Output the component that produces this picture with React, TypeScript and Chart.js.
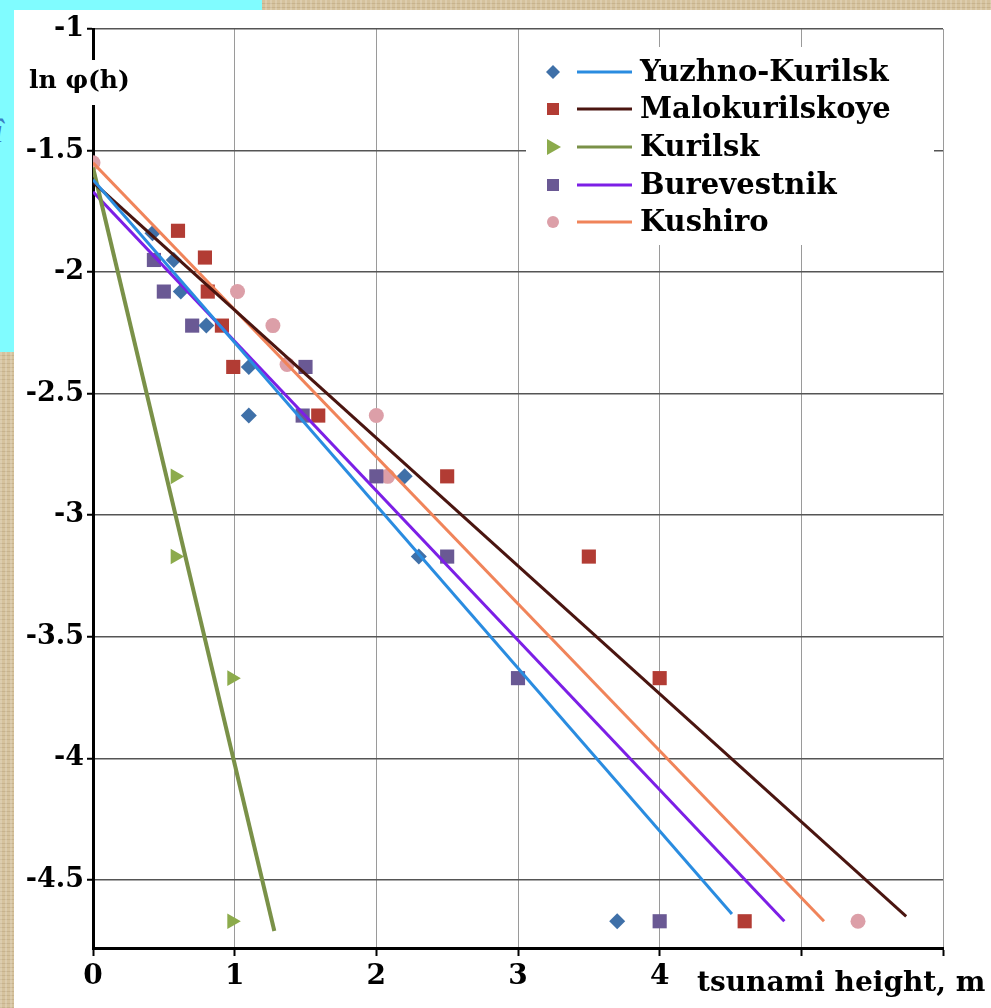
import React, { useEffect, useRef } from "react";
import { Chart, registerables } from "chart.js";

Chart.register(...registerables);

// ---------- DATA ----------
const seriesNames = ["Yuzhno-Kurilsk", "Malokurilskoye", "Kurilsk", "Burevestnik", "Kushiro"];

const yuzhnoX = [0.42, 0.57, 0.62, 0.8, 1.1, 1.1, 2.2, 2.3, 3.7];
const yuzhnoY = [-1.84, -1.95, -2.08, -2.22, -2.39, -2.59, -2.84, -3.17, -4.67];

const malokX = [0.6, 0.79, 0.81, 0.91, 0.99, 1.59, 2.5, 3.5, 4.0, 4.6];
const malokY = [-1.83, -1.94, -2.08, -2.22, -2.39, -2.59, -2.84, -3.17, -3.67, -4.67];

const kurilskX = [0.58, 0.58, 0.98, 0.98];
const kurilskY = [-2.84, -3.17, -3.67, -4.67];

const burevX = [0.43, 0.5, 0.7, 1.5, 1.48, 2.0, 2.5, 3.0, 4.0];
const burevY = [-1.95, -2.08, -2.22, -2.39, -2.59, -2.84, -3.17, -3.67, -4.67];

const kushiroX = [0.0, 1.02, 1.27, 1.37, 2.0, 2.08, 5.4];
const kushiroY = [-1.55, -2.08, -2.22, -2.38, -2.59, -2.84, -4.67];

// trend lines: [x0, x1], [y0, y1]
const yuzhnoTrendX = [0, 4.51];
const yuzhnoTrendY = [-1.62, -4.64];
const malokTrendX = [0, 5.74];
const malokTrendY = [-1.63, -4.65];
const kurilskTrendX = [0, 1.28];
const kurilskTrendY = [-1.57, -4.71];
const burevTrendX = [0, 4.88];
const burevTrendY = [-1.67, -4.67];
const kushiroTrendX = [0, 5.16];
const kushiroTrendY = [-1.55, -4.67];

const xTickLabels = ["0", "1", "2", "3", "4"];
const yAxisTitle = "ln φ(h)";
const xAxisTitle = "tsunami height, m";

// ---------- STYLE ----------
const markerColors = ["#3f70a8", "#b23c34", "#8cab4c", "#6a5994", "#dc9fa8"];
const lineColors = ["#2a8ce0", "#4a1510", "#7a9148", "#7c1fe6", "#f0845a"];
const markerStyles = ["rectRot", "rect", "triangle", "rect", "circle"];
const markerRadius = [8, 10, 9, 10, 7.5];
const markerRotation = [0, 0, 90, 0, 0];
const lineWidths = [3, 3, 4, 3, 3];

const FONT = "'DejaVu Serif', 'Liberation Serif', serif";

const pts = (xs: number[], ys: number[]) => xs.map((x, i) => ({ x, y: ys[i] }));

const overlayPlugin = {
  id: "overlay",
  afterDraw(chart: any) {
    const ctx = chart.ctx as CanvasRenderingContext2D;
    ctx.save();
    // y-axis title with white background
    ctx.fillStyle = "#ffffff";
    ctx.fillRect(26, 60, 118, 45);
    ctx.fillStyle = "#000";
    ctx.font = `bold 25px ${FONT}`;
    ctx.textBaseline = "middle";
    ctx.textAlign = "left";
    ctx.fillText(yAxisTitle, 29, 81);

    // x-axis title
    ctx.font = `bold 28px ${FONT}`;
    ctx.textBaseline = "alphabetic";
    ctx.fillText(xAxisTitle, 697, 991);

    // legend
    ctx.fillStyle = "#ffffff";
    ctx.fillRect(526, 47, 408, 198);
    const rows = [72, 109, 147, 185, 222];
    for (let i = 0; i < 5; i++) {
      const y = rows[i];
      const mx = 553;
      ctx.fillStyle = markerColors[i];
      ctx.beginPath();
      const st = markerStyles[i];
      if (st === "rectRot") {
        ctx.moveTo(mx - 7, y);
        ctx.lineTo(mx, y - 7);
        ctx.lineTo(mx + 7, y);
        ctx.lineTo(mx, y + 7);
        ctx.closePath();
      } else if (st === "rect") {
        ctx.rect(mx - 6, y - 6, 12, 12);
      } else if (st === "triangle") {
        ctx.moveTo(mx + 8, y);
        ctx.lineTo(mx - 6, y - 8);
        ctx.lineTo(mx - 6, y + 8);
        ctx.closePath();
      } else {
        ctx.arc(mx, y, 6, 0, Math.PI * 2);
      }
      ctx.fill();
      ctx.strokeStyle = lineColors[i];
      ctx.lineWidth = 3;
      ctx.beginPath();
      ctx.moveTo(577, y);
      ctx.lineTo(632, y);
      ctx.stroke();
      ctx.fillStyle = "#000";
      ctx.font = `bold 29px ${FONT}`;
      ctx.textBaseline = "middle";
      ctx.fillText(seriesNames[i], 640, y + 1);
    }
    ctx.restore();
  },
};

export default function App() {
  const canvasRef = useRef<HTMLCanvasElement | null>(null);

  useEffect(() => {
    if (!canvasRef.current) return;
    const scatterX = [yuzhnoX, malokX, kurilskX, burevX, kushiroX];
    const scatterY = [yuzhnoY, malokY, kurilskY, burevY, kushiroY];
    const trendX = [yuzhnoTrendX, malokTrendX, kurilskTrendX, burevTrendX, kushiroTrendX];
    const trendY = [yuzhnoTrendY, malokTrendY, kurilskTrendY, burevTrendY, kushiroTrendY];

    const datasets: any[] = [];
    for (let i = 0; i < 5; i++) {
      datasets.push({
        label: seriesNames[i] + " trend",
        data: pts(trendX[i], trendY[i]),
        showLine: true,
        borderColor: lineColors[i],
        borderWidth: lineWidths[i],
        pointRadius: 0,
        order: 0,
      });
    }
    for (let i = 0; i < 5; i++) {
      datasets.push({
        label: seriesNames[i],
        data: pts(scatterX[i], scatterY[i]),
        showLine: false,
        pointStyle: markerStyles[i],
        pointRadius: markerRadius[i],
        pointRotation: markerRotation[i],
        backgroundColor: markerColors[i],
        borderColor: markerColors[i],
        borderWidth: 0,
        order: 1,
      });
    }

    const tickFontY = { family: FONT, weight: "bold" as const, size: 27 };
    const tickFontX = { family: FONT, weight: "bold" as const, size: 28 };

    const chart = new Chart(canvasRef.current, {
      type: "scatter",
      data: { datasets },
      options: {
        animation: false,
        responsive: false,
        devicePixelRatio: 1,
        layout: { padding: { left: 0, top: 29, right: 48, bottom: 0 } },
        plugins: { legend: { display: false }, tooltip: { enabled: false } },
        scales: {
          x: {
            type: "linear",
            min: 0,
            max: 6,
            ticks: {
              stepSize: 1,
              autoSkip: false,
              maxRotation: 0,
              padding: 4,
              color: "#000",
              font: tickFontX,
              callback: (v: any) => {
                const idx = Math.round(Number(v));
                return idx < xTickLabels.length ? xTickLabels[idx] : "";
              },
            },
            grid: { color: "#9a9a9a", lineWidth: 1, tickLength: 8, tickColor: "#000", tickWidth: 2 },
            border: { color: "#000", width: 3 },
            afterFit: (s: any) => {
              s.height = 60;
            },
          } as any,
          y: {
            type: "linear",
            min: -4.78,
            max: -1,
            ticks: {
              stepSize: 0.5,
              padding: 3,
              color: "#000",
              font: tickFontY,
              callback: (v: any) => String(v),
            },
            grid: { color: "#555555", lineWidth: 1.5, tickLength: 6, tickColor: "#000", tickWidth: 2 },
            border: { color: "#000", width: 3 },
            afterBuildTicks: (s: any) => {
              s.ticks = s.ticks.filter((t: any) => Math.abs(t.value * 2 - Math.round(t.value * 2)) < 1e-6);
            },
            afterFit: (s: any) => {
              s.width = 93;
            },
          } as any,
        },
      },
      plugins: [overlayPlugin],
    });
    return () => chart.destroy();
  }, []);

  return (
    <div
      style={{
        position: "fixed",
        left: 0,
        top: 0,
        width: 991,
        height: 1008,
        overflow: "hidden",
        backgroundColor: "#d5c29d",
        backgroundImage:
          "repeating-linear-gradient(90deg, rgba(255,255,255,0.18) 0px, rgba(255,255,255,0.18) 2px, transparent 2px, transparent 5px), repeating-linear-gradient(0deg, rgba(120,90,50,0.15) 0px, rgba(120,90,50,0.15) 1px, transparent 1px, transparent 4px)",
      }}
    >
      <div style={{ position: "absolute", left: 0, top: 0, width: 262, height: 352, background: "#80fcff" }} />
      <span
        style={{
          position: "absolute",
          left: -6,
          top: 112,
          fontFamily: "'Liberation Serif', serif",
          fontStyle: "italic",
          fontSize: 34,
          color: "#3a80c4",
        }}
      >
        î
      </span>
      <div style={{ position: "absolute", left: 14, top: 10, right: 0, bottom: 0, background: "#ffffff" }} />
      <canvas
        ref={canvasRef}
        width={991}
        height={1008}
        style={{ position: "absolute", left: 0, top: 0, width: 991, height: 1008 }}
      />
    </div>
  );
}
